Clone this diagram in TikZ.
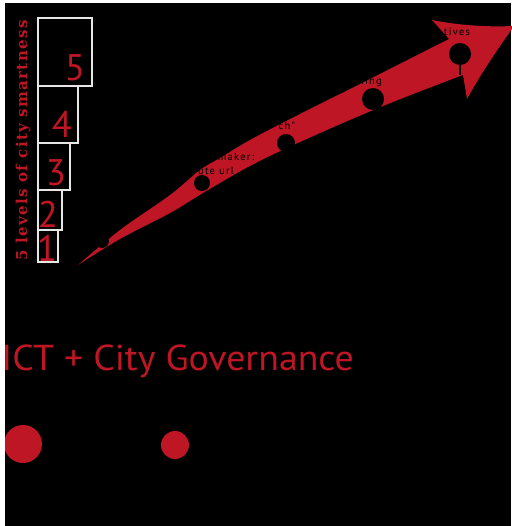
\documentclass[tikz,border=0pt]{standalone}
\usepackage{fontspec}
\setmainfont{PT Sans}
\newfontfamily\lvlserif[LetterSpace=9]{DejaVu Serif}
\newfontfamily\smallsans[LetterSpace=12]{PT Sans}
\definecolor{cred}{RGB}{190,22,36}
\definecolor{boxline}{RGB}{230,230,230}
\begin{document}
\begin{tikzpicture}[x=1pt,y=-1pt,
  lvlbox/.style={draw=boxline, line width=2pt, anchor=north west, inner sep=0pt},
  digit/.style={text=cred, font=\fontsize{37}{30}\selectfont, anchor=base, inner sep=0pt, text height=26pt, text depth=0pt},
  hole/.style={circle, fill=black, inner sep=0pt},
  lbl/.style={text=black, font=\smallsans\fontsize{10.5}{10.5}\selectfont, inner sep=0pt},
  dotred/.style={circle, fill=cred, inner sep=0pt}]
\useasboundingbox (0,0) rectangle (511,526);
\fill[black] (0,0) rectangle (511,526);

% level boxes
\node[lvlbox, minimum width=54pt, minimum height=68pt] (b5) at (37,17) {};
\node[lvlbox, minimum width=40pt, minimum height=57pt] (b4) at (37,85) {};
\node[lvlbox, minimum width=32pt, minimum height=47pt] (b3) at (37,142) {};
\node[lvlbox, minimum width=24pt, minimum height=40pt] (b2) at (37,189) {};
\node[lvlbox, minimum width=20pt, minimum height=32pt] (b1) at (37,229) {};

\node[digit] (d5) at (75,81) {5};
\node[digit] (d4) at (62,138) {4};
\node[digit] (d3) at (56,186) {3};
\node[digit] (d2) at (48,227) {2};
\node[digit] (d1) at (47,261) {1};

% vertical title
\node[rotate=90, anchor=base west, inner sep=0pt, text=cred,
  font=\lvlserif\bfseries\fontsize{15}{15}\selectfont] (title) at (27,261) {5 levels of city smartness};

% swoosh arrow
\fill[cred] plot[smooth, tension=0.6] coordinates {(78,265) (120,230) (170,195) (200,170) (220,158) (250,140) (300,114) (360,84) (449,39)}
  -- (432,20) .. controls (462,26) and (490,27) .. (514,26)
  .. controls (497,50) and (480,75) .. (467,99)
  -- (463,75)
  -- plot[smooth, tension=0.6] coordinates {(463,75) (383,106) (300,142) (250,166) (203,193) (170,213) (120,239) (78,265)}
  -- cycle;

% holes on the arrow
\node[hole, minimum size=14pt] (h1) at (102,241) {};
\node[hole, minimum size=16pt] (h2) at (202,183) {};
\node[hole, minimum size=18pt] (h3) at (286,143) {};
\node[hole, minimum size=22pt] (h4) at (373,99) {};
\node[hole, minimum size=22pt] (h5) at (460,54) {};
\coordinate (stemend) at (460,75);
\draw[black, line width=1.5pt] (h5.south) -- (stemend);

% labels (black on red)
\node[lbl] (t5) at (457,32) {tives};
\node[lbl] (t4) at (370,82) {ning};
\node[lbl] (t3) at (287,126) {ch"};
\node[lbl] (t2a) at (236,157) {maker:};
\node[lbl] (t2b) at (216,171) {ute url};
\node[lbl] (t1) at (137,215) {a};

% bottom
\node[anchor=base east, inner sep=0pt, text=cred, xscale=1.05, font=\fontsize{36}{36}\selectfont] (ict) at (354,370) {ICT + City Governance};
\node[dotred, minimum size=38pt] (c1) at (23,444) {};
\node[dotred, minimum size=28pt] (c2) at (175,445) {};

% white margins
\fill[white] (0,0) rectangle (5,526);
\fill[white] (0,0) rectangle (511,3);
\end{tikzpicture}
\end{document}
